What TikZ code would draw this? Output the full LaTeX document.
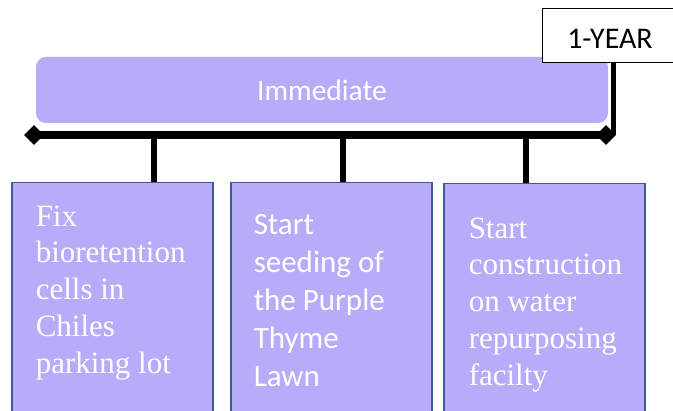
\documentclass[tikz,border=0pt]{standalone}
\usepackage{fontspec}
\setmainfont{Liberation Serif}
\newfontfamily\calibri{Carlito}
\usetikzlibrary{positioning}
\usetikzlibrary{shapes.geometric}
\definecolor{lavender}{HTML}{B8ABFA}
\definecolor{boxedge}{HTML}{3C5A9A}

\begin{document}
\begin{tikzpicture}
[x=1pt, y=-1pt, line width=7.5pt,
 phase/.style={fill=lavender, rounded corners=10pt, minimum width=572pt, minimum height=66pt, inner sep=0pt, text=white, font=\calibri\fontsize{29.5}{36}\selectfont},
 marker/.style={diamond, fill=black, minimum width=23pt, minimum height=23pt, inner sep=0pt},
 task/.style={draw=boxedge, line width=1.5pt, fill=lavender, minimum width=201pt, minimum height=260pt, anchor=north west, inner sep=0pt},
 tasktext/.style={anchor=north west, inner sep=0pt, align=left, text=white}]

\useasboundingbox (0,0) rectangle (673,411);

% Phase bar:
\node[phase, text height=22pt, text depth=0pt] (immediate) at (322,90) {Immediate};
\node[draw, fill=white, line width=1pt, minimum width=135pt, minimum height=54pt, inner sep=0pt,
      text height=26pt, text depth=0pt,
      font=\calibri\fontsize{30}{37}\selectfont] (year) at (610,36) {1-YEAR};

% Timeline:
\node[marker] (start)  at (34,135)  {};
\node[marker] (finish) at (606,135) {};
\draw (start.center) -- (finish.center);
\draw[line width=5pt] (finish.north east |- year.south) -- (finish.north east |- finish.center);

% Task boxes:
\node[task] (fix)   at (11,182)  {};
\node[task] (seed)  at (230,182) {};
\node[task] (build) at (443,183) {};

% Drops from the timeline:
\coordinate (drop1) at (154,135);
\coordinate (drop2) at (343,135);
\coordinate (drop3) at (526,135);
\draw[line width=6pt] (drop1) -- (drop1 |- fix.north);
\draw[line width=6pt] (drop2) -- (drop2 |- seed.north);
\draw[line width=6pt] (drop3) -- (drop3 |- build.north);

% Task texts:
\node[tasktext, font=\fontsize{31}{36.7}\selectfont] (fixtext) at (32,202)
  {Fix\\ bioretention\\ cells in\\ Chiles\\ parking lot};
\node[tasktext, font=\calibri\fontsize{31}{38}\selectfont] (seedtext) at (250,211)
  {Start\\ seeding of\\ the Purple\\ Thyme\\ Lawn};
\node[tasktext, font=\fontsize{31}{36.7}\selectfont] (buildtext) at (465,214)
  {Start\\ construction\\ on water\\ repurposing\\ facilty};

\end{tikzpicture}
\end{document}
